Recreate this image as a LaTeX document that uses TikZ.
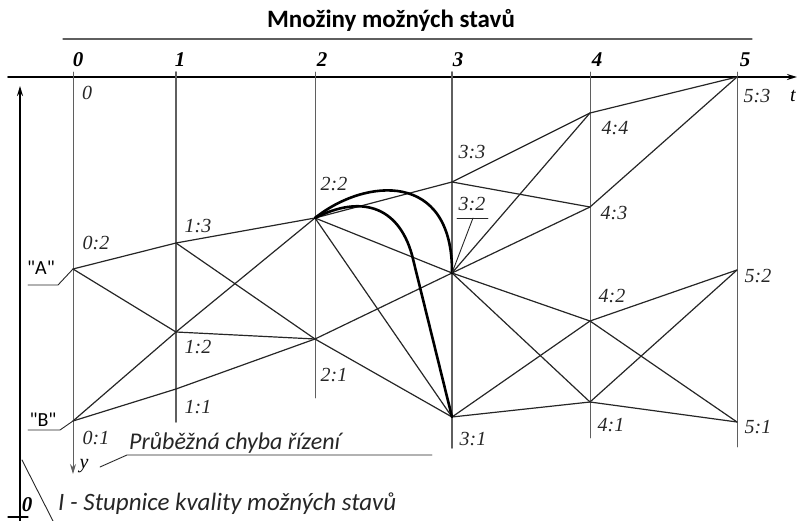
\documentclass[tikz,border=0pt]{standalone}
\usepackage{fontspec}
\setmainfont{Liberation Serif}
\newfontfamily\calibri{Carlito}
\usetikzlibrary{arrows.meta}

\begin{document}
\begin{tikzpicture}[x=1pt, y=-1pt, line cap=round, line join=round, >={Stealth[length=10pt,width=6pt]}]
	\definecolor{gridgray}{RGB}{95,95,95}
	\tikzset{
		lbl/.style={font=\fontsize{20}{20}\selectfont\itshape, text=black!85, inner sep=0pt},
		hd/.style={font=\fontsize{21}{21}\selectfont\bfseries\itshape, inner sep=0pt},
		cal/.style={font=\calibri\itshape\fontsize{24}{24}\selectfont, text=black!85, inner sep=0pt},
		edge/.style={black!85, line width=1.2pt},
		path/.style={black, line width=2.6pt}
	}
	\useasboundingbox (0,0) rectangle (801,521);
	% title
	\node[font=\calibri\bfseries\fontsize{25}{25}\selectfont, inner sep=0pt] (title) at (391,20) {Množiny možných stavů};
	\coordinate (ulL) at (63,39);
	\coordinate (ulR) at (752,39);
	\draw[gridgray, line width=1.2pt] (ulL) -- (ulR);
	% time axis
	\coordinate (tstart) at (8,77);
	\coordinate (tend) at (797,77);
	\draw[line width=1.6pt, ->] (tstart) -- (tend);
	\node[lbl, text=black] (tlab) at (793,96) {t};
	% quality axis
	\coordinate (qbot) at (20,521);
	\coordinate (qtop) at (20,86);
	\draw[line width=1.6pt, ->] (qbot) -- (qtop);
	\coordinate (qtickL) at (8,517);
	\coordinate (qtickR) at (28,517);
	\draw[line width=1.2pt] (qtickL) -- (qtickR);
	\node[hd] (qzero) at (27,505) {0};
	% columns
	\foreach \c/\x/\hx/\b/\w in {1/176/180/422/1.7, 2/315/322/398/0.9, 3/452/458/448/1.9, 4/590/597/438/0.9, 5/737/745/447/0.9}{
		\coordinate (top\c) at (\x,72);
		\coordinate (bot\c) at (\x,\b);
		\draw[gridgray, line width=\w pt] (top\c) -- (bot\c);
		\node[hd] (head\c) at (\hx,60) {\c};
	}
	\node[hd] (head0) at (78,60) {0};
	\coordinate (top0) at (73,72);
	\coordinate (bot0) at (73,474);
	\draw[gridgray, line width=0.9pt, ->] (top0) -- (bot0);
	\node[lbl, text=black] (ylab) at (84,466) {y};
	% states
	\coordinate (s02) at (73,269);
	\coordinate (s01) at (73,421);
	\coordinate (s13) at (176,243);
	\coordinate (s12) at (176,332);
	\coordinate (s11) at (176,389);
	\coordinate (s22) at (315,218);
	\coordinate (s21) at (315,339);
	\coordinate (s33) at (452,182);
	\coordinate (s32) at (452,273);
	\coordinate (s31) at (452,417);
	\coordinate (s44) at (590,113);
	\coordinate (s43) at (590,207);
	\coordinate (s42) at (590,321);
	\coordinate (s41) at (590,402);
	\coordinate (s53) at (737,77);
	\coordinate (s52) at (737,270);
	\coordinate (s51) at (737,422);
	\foreach \a/\b in {s02/s13, s02/s12, s01/s12, s01/s11,
		s13/s22, s13/s21, s12/s22, s12/s21, s11/s21,
		s22/s33, s22/s32, s22/s31, s21/s32, s21/s31,
		s33/s44, s33/s43, s32/s44, s32/s43, s32/s42, s32/s41, s31/s42, s31/s41,
		s44/s53, s43/s53, s42/s52, s42/s51, s41/s52, s41/s51}
		\draw[edge] (\a) -- (\b);
	% optimal paths
	\draw[path] (s22) .. controls (365,178) and (453,170) .. (s32);
	\draw[path] (s22) .. controls (360,195) and (398,205) .. (412,255) -- (s31);
	% state labels
	\node[lbl] (l0) at (87,93) {0};
	\node[lbl] (l02) at (96,243) {0:2};
	\node[lbl] (l01) at (96,438) {0:1};
	\node[lbl] (l13) at (198,226) {1:3};
	\node[lbl] (l12) at (198,347) {1:2};
	\node[lbl] (l11) at (198,407) {1:1};
	\node[lbl] (l22) at (334,184) {2:2};
	\node[lbl] (l21) at (334,375) {2:1};
	\node[lbl] (l33) at (472,152) {3:3};
	\node[lbl] (l32) at (472,204) {3:2};
	\node[lbl] (l31) at (473,439) {3:1};
	\node[lbl] (l44) at (615,128) {4:4};
	\node[lbl] (l43) at (614,213) {4:3};
	\node[lbl] (l42) at (612,296) {4:2};
	\node[lbl] (l41) at (611,425) {4:1};
	\node[lbl] (l53) at (757,96) {5:3};
	\node[lbl] (l52) at (758,276) {5:2};
	\node[lbl] (l51) at (758,427) {5:1};
	\coordinate (u32L) at (457,218);
	\coordinate (u32R) at (488,218);
	\coordinate (u32M) at (473,218);
	\draw[edge, line width=0.9pt] (u32L) -- (u32R);
	\draw[edge, line width=0.9pt] (s32) -- (u32M);
	% A and B
	\node[font=\calibri\fontsize{20}{20}\selectfont, inner sep=0pt] (labA) at (41,268) {"A"};
	\coordinate (aL) at (28,285);
	\coordinate (aR) at (58,285);
	\draw[edge, line width=0.9pt] (aL) -- (aR) -- (s02);
	\node[font=\calibri\fontsize{20}{20}\selectfont, inner sep=0pt] (labB) at (43,420) {"B"};
	\coordinate (bL) at (28,430);
	\coordinate (bR) at (60,430);
	\draw[edge, line width=0.9pt] (bL) -- (bR) -- (s01);
	% notes
	\node[cal, anchor=base west] (err) at (129,449) {Průběžná chyba řízení};
	\coordinate (errL) at (127,455);
	\coordinate (errR) at (432,455);
	\coordinate (yend) at (100,467);
	\draw[edge, line width=0.9pt] (yend) -- (errL) -- (errR);
	\node[cal, font=\calibri\itshape\fontsize{25}{25}\selectfont, anchor=base west] (scale) at (58,510) {I - Stupnice kvality možných stavů};
	\coordinate (slA) at (22,460);
	\coordinate (slB) at (53,521);
	\draw[edge, line width=0.9pt] (slA) -- (slB);
\end{tikzpicture}
\end{document}
